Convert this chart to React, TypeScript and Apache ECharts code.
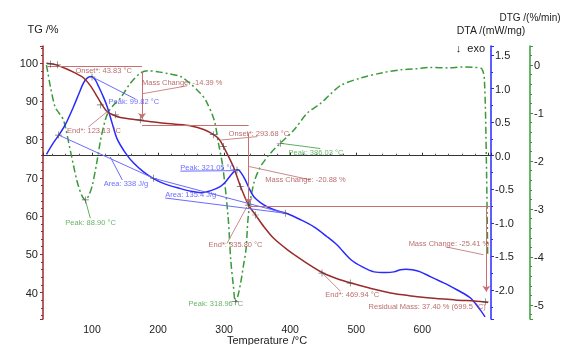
import React, { useEffect, useRef } from "react";
import * as echarts from "echarts";

// ---- TG (mass %) ----
const tgTemp = [31, 40, 47, 60, 75, 87, 98, 108, 115, 123, 133, 143, 158, 173, 200, 223, 250, 270, 284, 293, 299, 307, 315, 325, 337, 348, 360, 375, 396, 420, 449, 470, 492, 520, 552, 580, 612, 650, 692, 699.5];
const tgValues = [100, 99.8, 99.5, 98.6, 97.4, 96.2, 94, 91.2, 89.2, 87.3, 86.4, 85.8, 85.4, 85.1, 84.5, 84.1, 83.6, 82.6, 81.3, 80.0, 78.2, 75.5, 72.5, 67.7, 62.9, 60.2, 57.3, 54.2, 51.2, 48.3, 45.2, 43.7, 42.5, 41.2, 39.9, 39.2, 38.6, 38.1, 37.6, 37.4];

// ---- DTA (mW/mg) ----
const dtaTemp = [31, 40, 50, 60, 72, 80, 87, 93, 99, 105, 110, 117, 123, 130, 138, 150, 163, 178, 193, 210, 234, 250, 265, 280, 294, 302, 310, 316, 321, 326, 332, 338, 345, 355, 365, 380, 395, 415, 436, 455, 471, 492, 510, 527, 545, 557, 567, 575, 585, 597, 612, 627, 640, 653, 673, 688, 695];
const dtaValues = [0.02, 0.17, 0.31, 0.47, 0.73, 0.92, 1.08, 1.16, 1.18, 1.13, 1.03, 0.88, 0.73, 0.5, 0.25, 0.05, -0.11, -0.24, -0.34, -0.42, -0.49, -0.53, -0.55, -0.52, -0.46, -0.39, -0.29, -0.23, -0.21, -0.26, -0.36, -0.49, -0.61, -0.7, -0.76, -0.82, -0.86, -0.95, -1.06, -1.2, -1.33, -1.55, -1.66, -1.73, -1.74, -1.73, -1.7, -1.69, -1.7, -1.73, -1.8, -1.87, -1.93, -2.0, -2.12, -2.3, -2.4];

// ---- DTG (%/min) ----
const dtgTemp = [31, 33, 37, 44, 50, 57, 67, 77, 84, 90, 95, 100, 107, 113, 120, 125, 133, 143, 158, 173, 185, 199, 215, 234, 250, 264, 272, 285, 291, 298, 306, 310, 314, 317, 321, 325, 329, 333, 337, 345, 355, 370, 385, 406, 426, 446, 460, 477, 507, 540, 567, 590, 612, 640, 660, 680, 690, 694, 697, 699];
const dtgValues = [0.0, -0.15, -0.45, -0.87, -1.0, -1.15, -1.77, -2.4, -2.7, -2.81, -2.72, -2.53, -2.05, -1.56, -1.15, -0.97, -0.83, -0.69, -0.38, -0.17, -0.12, -0.14, -0.18, -0.24, -0.4, -0.59, -0.73, -1.15, -1.6, -2.12, -3.16, -4.06, -4.6, -4.93, -4.8, -4.54, -4.2, -3.85, -3.09, -2.46, -2.12, -1.84, -1.63, -1.35, -1.0, -0.8, -0.62, -0.42, -0.27, -0.16, -0.1, -0.08, -0.05, -0.06, -0.04, -0.05, -0.08, -0.3, -2.0, -4.0];

// ---- Annotation texts [text, temperature, value] ----
const tgNotes: [string, number, number][] = [
  ["Onset*: 43.83 °C", 74.9, 98.1],
  ["Mass Change: -14.39 %", 175.7, 94.9],
  ["End*: 123.13 °C", 62.2, 82.4],
  ["Onset*: 293.68 °C", 306.8, 81.7],
  ["Mass Change: -20.88 %", 362.3, 69.5],
  ["End*: 335.80 °C", 276.5, 52.5],
  ["Mass Change: -25.41 %", 579.3, 52.9],
  ["End*: 469.94 °C", 453.2, 39.4],
  ["Residual Mass: 37.40 % (699.5 °C)", 518.7, 36.5],
];
const dtaNotes: [string, number, number][] = [
  ["Peak: 99.82 °C", 125.1, 0.8],
  ["Area: 338 J/g", 117.6, -0.411],
  ["Area: 135.4 J/g", 211, -0.585],
  ["Peak: 321.05 °C", 233.7, -0.179],
];
const dtgNotes: [string, number, number][] = [
  ["Peak: 88.90 °C", 59.6, -3.285],
  ["Peak: 386.03 °C", 397.6, -1.819],
  ["Peak: 318.96 °C", 246.2, -4.965],
];

// ---- Evaluation guide lines [t1, v1, t2, v2, endSymbol] ----
const tgGuides: [number, number, number, number, string][] = [
  [32.3, 99.3, 175.7, 99.3, "none"],
  [175.7, 97.8, 175.7, 85.4, "arrow"],
  [175.7, 83.9, 337.1, 83.9, "none"],
  [337.1, 81.7, 337.1, 63.2, "arrow"],
  [337.1, 62.7, 704, 62.7, "none"],
  [696.9, 62.7, 696.9, 40.2, "arrow"],
];
const tgLeaders: [number, number, number, number][] = [
  [175.7, 92.0, 244.3, 94.1],
  [122.7, 87.3, 94.4, 83.3],
  [294.2, 79.9, 350.2, 80.8],
  [337.1, 73.0, 430.5, 69.5],
  [334.6, 62.5, 304.4, 52.9],
  [692.8, 49.9, 634.8, 52.0],
  [448.6, 45.1, 475.9, 40.4],
];
const dtaGuides: [number, number, number, number][] = [
  [49.4, 0.308, 193.2, -0.336],
  [127.7, -0.019, 145.9, -0.362],
  [100.5, 1.172, 165.6, 0.845],
  [193.2, -0.336, 392.6, -0.857],
  [211, -0.63, 392.6, -0.857],
  [233.7, -0.23, 319.5, -0.222],
];
const dtgGuides: [number, number, number, number][] = [
  [89.9, -2.81, 97.4, -3.19],
  [385, -1.63, 445.6, -1.74],
];

// ---- Evaluation points (+) ----
const tgMarks = [[36.9, 99.8], [47.5, 99.6], [112.6, 89.1], [135.3, 86.5], [173.1, 85.2], [283.6, 81.3], [298.8, 78.2], [324.5, 67.7], [336.6, 62.9], [347.2, 60.3], [448.2, 45.1], [491, 42.5], [695.4, 37.6]];
const dtaMarks = [[100, 1.172], [49.4, 0.308], [193.2, -0.336], [319.5, -0.213], [392.6, -0.857]];
const dtgMarks = [[89.9, -2.81], [385, -1.63], [316.9, -4.93]];

const FONT = "'Liberation Sans', Arial, sans-serif";
const C_TG = "#9a2b2b";
const C_TG_TXT = "#a84848";
const C_DTA = "#2a2aff";
const C_DTA_TXT = "#4848ff";
const C_DTG = "#3a9a3a";
const C_DTG_TXT = "#44a044";
const PLUS = "path://M4.5,0H5.5V4.5H10V5.5H5.5V10H4.5V5.5H0V4.5H4.5Z";

function zip(a: number[], b: number[]) {
  return a.map((t, i) => [t, b[i]]);
}

function markLineOf(segs: any[], color: string) {
  return {
    silent: true,
    symbol: ["none", "none"],
    symbolSize: 6,
    label: { show: false },
    emphasis: { disabled: true },
    animation: false,
    lineStyle: { type: "solid", width: 1, color },
    data: segs.map((g) => [
      { coord: [g[0], g[1]], symbol: "none" },
      { coord: [g[2], g[3]], symbol: g[4] || "none" },
    ]),
  };
}

function notesSeries(notes: [string, number, number][], yIdx: number, color: string) {
  return {
    type: "scatter",
    yAxisIndex: yIdx,
    symbolSize: 0,
    silent: true,
    z: 5,
    data: notes.map((n) => ({ value: [n[1], n[2]], name: n[0] })),
    label: {
      show: true,
      position: "right",
      distance: 0,
      formatter: (p: any) => p.name,
      color,
      fontSize: 7.5,
      fontFamily: FONT,
    },
  };
}

function marksSeries(marks: number[][], yIdx: number) {
  return {
    type: "scatter",
    yAxisIndex: yIdx,
    symbol: PLUS,
    symbolSize: 7,
    silent: true,
    z: 6,
    itemStyle: { color: "#444" },
    data: marks,
  };
}

function guideSeries(segs: any[], yIdx: number, color: string) {
  return {
    type: "line",
    yAxisIndex: yIdx,
    data: [],
    silent: true,
    markLine: markLineOf(segs, color),
  };
}

export default function App() {
  const ref = useRef<HTMLDivElement>(null);
  useEffect(() => {
    if (!ref.current) return;
    const chart = echarts.init(ref.current, null, { renderer: "svg" });
    const axisLabelBase = { fontSize: 11, color: "#222", fontFamily: FONT, showMinLabel: false, showMaxLabel: false };
    const option: any = {
      animation: false,
      textStyle: { fontFamily: FONT },
      grid: { left: 43, right: 72, top: 46, bottom: 26, containLabel: false, outerBoundsMode: "none" },
      xAxis: {
        type: "value",
        min: 25.8,
        max: 704,
        splitNumber: 7,
        splitLine: { show: false },
        axisLine: { lineStyle: { color: "#333", width: 1 } },
        axisTick: { inside: true, length: 3, lineStyle: { color: "#333" } },
        minorTick: { show: true, splitNumber: 5, length: 2, lineStyle: { color: "#555" } },
        axisLabel: {
          ...axisLabelBase,
          fontSize: 10.5,
          margin: 4,
          formatter: (v: number) => (v >= 100 && v <= 600 ? String(v) : ""),
        },
        name: "Temperature /°C",
        nameLocation: "middle",
        nameGap: 15,
        nameMoveOverlap: false,
        nameTextStyle: { fontSize: 11, color: "#222", fontFamily: FONT },
      },
      yAxis: [
        {
          type: "value",
          position: "left",
          min: 33.1,
          max: 104.5,
          splitNumber: 7,
          splitLine: { show: false },
          axisLine: { show: true, lineStyle: { color: C_TG, width: 1.5 } },
          axisTick: { show: true, length: 3, lineStyle: { color: C_TG } },
          minorTick: { show: true, splitNumber: 5, length: 2, lineStyle: { color: C_TG } },
          axisLabel: { ...axisLabelBase, margin: 5 },
          name: "TG /%",
          nameLocation: "end",
          nameGap: 12,
          nameMoveOverlap: false,
          nameTextStyle: { fontSize: 11, color: "#222", fontFamily: FONT },
        },
        {
          type: "value",
          position: "right",
          offset: 0,
          min: -2.432,
          max: 1.634,
          splitNumber: 8,
          splitLine: { show: false },
          axisLine: { show: true, lineStyle: { color: C_DTA, width: 1.5 } },
          axisTick: { show: true, length: 3, lineStyle: { color: C_DTA } },
          minorTick: { show: true, splitNumber: 2, length: 2, lineStyle: { color: C_DTA } },
          axisLabel: { ...axisLabelBase, margin: 4, formatter: (v: number) => v.toFixed(1) },
          name: "DTA /(mW/mg)",
          nameLocation: "end",
          nameGap: 11,
          nameMoveOverlap: false,
          nameTextStyle: { fontSize: 10.5, color: "#222", fontFamily: FONT },
        },
        {
          type: "value",
          position: "right",
          offset: 39,
          min: -5.29,
          max: 0.396,
          splitNumber: 6,
          splitLine: { show: false },
          axisLine: { show: true, lineStyle: { color: C_DTG, width: 1.5 } },
          axisTick: { show: true, length: 3, lineStyle: { color: C_DTG } },
          minorTick: { show: true, splitNumber: 5, length: 2, lineStyle: { color: C_DTG } },
          axisLabel: { ...axisLabelBase, margin: 4, formatter: (v: number) => String(Math.round(v)) },
          name: "DTG /(%/min)",
          nameLocation: "end",
          nameGap: 24,
          nameMoveOverlap: false,
          nameTextStyle: { fontSize: 10, color: "#222", fontFamily: FONT },
        },
      ],
      graphic: [
        {
          type: "text",
          right: 78,
          top: 42,
          style: { text: "↓  exo", fontSize: 11, fill: "#222", fontFamily: FONT },
        },
      ],
      series: [
        guideSeries(tgGuides, 0, "#c87070"),
        guideSeries(tgLeaders, 0, "#c98a8a"),
        guideSeries(dtaGuides, 1, "#6a6aff"),
        guideSeries(dtgGuides, 2, "#5cb05c"),
        {
          name: "DTG",
          type: "line",
          yAxisIndex: 2,
          data: zip(dtgTemp, dtgValues),
          showSymbol: false,
          smooth: 0.3,
          lineStyle: { color: C_DTG, width: 1.5, type: [7, 3, 2, 3] },
          silent: true,
          z: 3,
        },
        {
          name: "DTA",
          type: "line",
          yAxisIndex: 1,
          data: zip(dtaTemp, dtaValues),
          showSymbol: false,
          smooth: 0.3,
          lineStyle: { color: C_DTA, width: 1.5 },
          silent: true,
          z: 3,
        },
        {
          name: "TG",
          type: "line",
          yAxisIndex: 0,
          data: zip(tgTemp, tgValues),
          showSymbol: false,
          smooth: 0.3,
          lineStyle: { color: C_TG, width: 1.5 },
          silent: true,
          z: 4,
        },
        marksSeries(tgMarks, 0),
        marksSeries(dtaMarks, 1),
        marksSeries(dtgMarks, 2),
        notesSeries(tgNotes, 0, C_TG_TXT),
        notesSeries(dtaNotes, 1, C_DTA_TXT),
        notesSeries(dtgNotes, 2, C_DTG_TXT),
      ],
    };
    chart.setOption(option);
    return () => chart.dispose();
  }, []);
  return <div ref={ref} style={{ position: "fixed", left: 0, top: 0, width: 563, height: 345 }} />;
}
